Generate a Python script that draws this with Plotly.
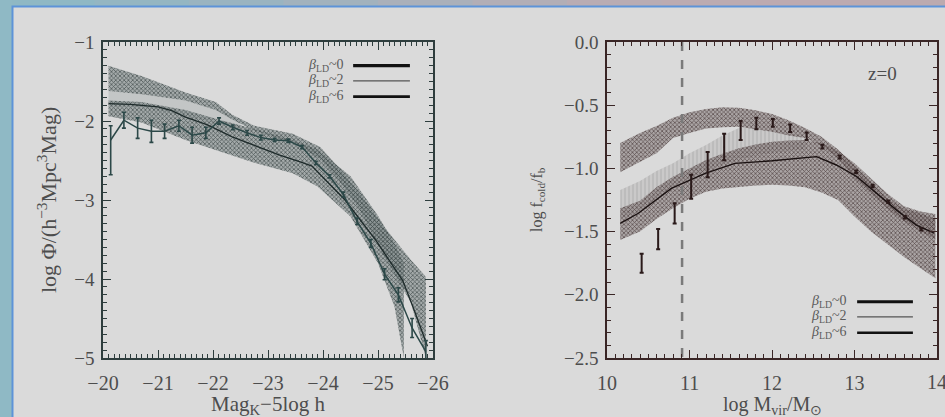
import plotly.graph_objects as go

# ---------------- left panel: K-band luminosity function ----------------
lf_mag = [-20.14, -20.38, -20.63, -20.88, -21.12, -21.38, -21.62, -21.87, -22.11,
          -22.36, -22.62, -22.87, -23.12, -23.37, -23.62, -23.87, -24.12, -24.37,
          -24.62, -24.87, -25.12, -25.37, -25.62, -25.87]
lf_phi = [-2.24, -1.99, -2.09, -2.13, -2.13, -2.06, -2.18, -2.15, -2.00,
          -2.08, -2.15, -2.21, -2.24, -2.25, -2.33, -2.53, -2.70, -2.93,
          -3.27, -3.55, -3.94, -4.20, -4.62, -4.92]
lf_err_up = [0.18, 0.10, 0.13, 0.14, 0.09, 0.07, 0.10, 0.07, 0.04,
             0.03, 0.03, 0.03, 0.02, 0.02, 0.02, 0.02, 0.02, 0.03,
             0.04, 0.05, 0.07, 0.09, 0.12, 0.14]
lf_err_dn = [0.44, 0.10, 0.13, 0.14, 0.09, 0.07, 0.10, 0.07, 0.04,
             0.03, 0.03, 0.03, 0.02, 0.02, 0.02, 0.02, 0.02, 0.03,
             0.04, 0.05, 0.07, 0.09, 0.12, 0.14]

lf_model_mag = [-20.1, -20.5, -21.0, -21.25, -21.5, -21.9, -22.35, -22.85, -23.2,
                -23.6, -23.8, -24.05, -24.4, -24.95, -25.2, -25.45, -25.65, -25.9]
lf_model_phi = [-1.78, -1.79, -1.82, -1.87, -1.95, -2.05, -2.20, -2.33, -2.43,
                -2.52, -2.57, -2.75, -3.00, -3.50, -3.76, -4.02, -4.38, -4.85]

# model spread, beta_LD ~ 0
lfA_mag = [-20.1, -20.7, -21.5, -22.05, -22.35, -22.75, -23.45, -23.95, -24.3,
           -24.65, -25.1, -25.6, -25.87]
lfA_hi = [-1.30, -1.43, -1.64, -1.76, -1.92, -2.06, -2.16, -2.33, -2.60,
          -2.90, -3.33, -3.76, -3.97]
lfA_lo = [-1.62, -1.66, -1.74, -1.86, -1.98, -2.12, -2.28, -2.48, -2.76,
          -3.10, -3.70, -4.30, -5.00]
# model spread, beta_LD ~ 2
lfC_mag = [-20.1, -20.7, -21.5, -22.1, -22.5]
lfC_hi = [-1.62, -1.66, -1.74, -1.86, -1.98]
lfC_lo = [-1.80, -1.82, -1.94, -2.04, -2.10]
# model spread, beta_LD ~ 6
lfB_mag = [-20.1, -20.7, -21.5, -22.1, -22.75, -23.45, -23.9, -24.5, -25.0,
           -25.3, -25.47]
lfB_hi = [-1.74, -1.76, -1.86, -1.98, -2.10, -2.24, -2.36, -2.70, -3.20,
          -3.55, -3.80]
lfB_lo = [-1.94, -2.02, -2.24, -2.38, -2.53, -2.66, -2.83, -3.21, -3.80,
          -4.35, -5.00]

# ---------------- right panel: cold gas fraction vs halo mass ----------------
fc_mass = [10.42, 10.62, 10.82, 11.02, 11.22, 11.42, 11.62, 11.81, 12.01,
           12.22, 12.42, 12.61, 12.82, 13.02, 13.22, 13.41, 13.61, 13.81]
fc_val = [-1.75, -1.56, -1.355, -1.145, -0.97, -0.83, -0.70, -0.645, -0.64,
          -0.683, -0.745, -0.827, -0.91, -1.026, -1.14, -1.263, -1.387, -1.482]
fc_err = [0.075, 0.08, 0.08, 0.095, 0.10, 0.105, 0.075, 0.045, 0.03,
          0.03, 0.03, 0.015, 0.012, 0.01, 0.01, 0.01, 0.01, 0.01]

fc_model_mass = [10.16, 10.38, 10.78, 11.19, 11.55, 12.0, 12.54, 12.78, 13.03,
                 13.27, 13.51, 13.75, 13.96]
fc_model_val = [-1.435, -1.355, -1.158, -1.04, -0.96, -0.94, -0.907, -0.973, -1.066,
                -1.197, -1.33, -1.448, -1.51]

band_mass = [10.16, 10.4, 10.6, 10.8, 11.0, 11.2, 11.4, 11.6, 11.8, 12.0,
             12.2, 12.4, 12.6, 12.8, 13.0, 13.2, 13.4, 13.6, 13.8, 13.98]
fcA_hi = [-0.80, -0.72, -0.665, -0.60, -0.555, -0.53, -0.517, -0.52, -0.54, -0.57,
          -0.62, -0.68, -0.75, -0.85, -0.98, -1.11, -1.24, -1.32, -1.355, -1.40]
fcA_lo = [-1.03, -0.95, -0.88, -0.76, -0.72, -0.685, -0.675, -0.67, -0.69, -0.71,
          -0.74, -0.76, -0.82, -0.92, -1.08, -1.20, -1.32, -1.42, -1.50, -1.56]
fcB_hi = [-1.316, -1.255, -1.15, -1.066, -1.0, -0.934, -0.885, -0.84, -0.81, -0.79,
          -0.78, -0.775, -0.80, -0.86, -0.96, -1.08, -1.20, -1.30, -1.34, -1.36]
fcB_lo = [-1.566, -1.50, -1.40, -1.316, -1.24, -1.184, -1.16, -1.145, -1.135, -1.13,
          -1.135, -1.15, -1.19, -1.25, -1.38, -1.50, -1.60, -1.70, -1.79, -1.87]
fcC_mass = [10.16, 10.4, 10.6, 10.8, 11.0, 11.2, 11.4, 11.6, 11.8, 12.0, 12.2, 12.4]
fcC_hi = [-1.17, -1.10, -1.02, -0.96, -0.88, -0.815, -0.74, -0.68, -0.68, -0.70, -0.72, -0.75]
fcC_lo = [-1.40, -1.34, -1.24, -1.15, -1.08, -1.02, -0.97, -0.93, -0.90, -0.88, -0.86, -0.85]

mass_resolution = 10.91
mass_axis_end = 14

legend_labels = ["<i>β</i><sub>LD</sub>~0", "<i>β</i><sub>LD</sub>~2", "<i>β</i><sub>LD</sub>~6"]
legend_widths = [3.2, 1.4, 2.6]
legend_colors = ["#111111", "#555555", "#111111"]

SERIF = "Liberation Serif, Times New Roman, serif"
TXT = "#4d4d4d"
PANEL_BG = "#dadada"


def band(x, hi, lo, xa, ya, fg, bg, shape, size, solidity):
    return go.Scatter(
        x=list(x) + list(x)[::-1], y=list(hi) + list(lo)[::-1],
        xaxis=xa, yaxis=ya, mode="lines", line=dict(width=0),
        fill="toself", fillcolor=bg,
        fillpattern=dict(shape=shape, size=size, solidity=solidity,
                         fgcolor=fg, bgcolor=bg, fillmode="replace"),
        hoverinfo="skip", showlegend=False)


LF_FG, LF_BG = "rgba(55,66,66,0.85)", "rgba(120,130,130,0.55)"
FC_FG, FC_BG = "rgba(70,55,55,0.85)", "rgba(130,120,120,0.55)"

fig = go.Figure()

# left panel bands
fig.add_trace(band(lfC_mag, lfC_hi, lfC_lo, "x", "y",
                   "rgba(165,170,170,0.7)", "rgba(185,190,190,0.7)", "", 4, 0.2))
fig.add_trace(band(lfA_mag, lfA_hi, lfA_lo, "x", "y", LF_FG, LF_BG, "x", 3, 0.4))
fig.add_trace(band(lfB_mag, lfB_hi, lfB_lo, "x", "y", LF_FG, LF_BG, "x", 3, 0.4))

# left panel model median and data
fig.add_trace(go.Scatter(x=lf_model_mag, y=lf_model_phi, xaxis="x", yaxis="y",
                         mode="lines", line=dict(color="#1e2b2b", width=1.3),
                         showlegend=False))
fig.add_trace(go.Scatter(x=lf_mag, y=lf_phi, xaxis="x", yaxis="y",
                         mode="lines", line=dict(color="#2c4848", width=1.5),
                         error_y=dict(type="data", symmetric=False, array=lf_err_up,
                                      arrayminus=lf_err_dn, color="#2c4848",
                                      thickness=1.6, width=2),
                         showlegend=False))

# right panel bands
fig.add_trace(band(fcC_mass, fcC_hi, fcC_lo, "x2", "y2",
                   "rgba(175,172,172,0.8)", "rgba(198,196,196,0.8)", "|", 4, 0.3))
fig.add_trace(band(band_mass, fcA_hi, fcA_lo, "x2", "y2", FC_FG, FC_BG, "x", 3, 0.4))
fig.add_trace(band(band_mass, fcB_hi, fcB_lo, "x2", "y2", FC_FG, FC_BG, "x", 3, 0.4))

fig.add_trace(go.Scatter(x=fc_model_mass, y=fc_model_val, xaxis="x2", yaxis="y2",
                         mode="lines", line=dict(color="#1a1111", width=1.4),
                         showlegend=False))
fig.add_trace(go.Scatter(x=fc_mass, y=fc_val, xaxis="x2", yaxis="y2",
                         mode="markers", marker=dict(size=1, color="#2a1a1a"),
                         error_y=dict(type="data", array=fc_err, color="#2a1a1a",
                                      thickness=2, width=2),
                         showlegend=False))

# resolution limit
fig.add_trace(go.Scatter(x=[mass_resolution, mass_resolution], y=[0.0, -2.5],
                         xaxis="x2", yaxis="y2", mode="lines",
                         line=dict(color="#7a7a7a", width=2.5, dash="dash"),
                         showlegend=False))


def axis_style(domain, rng, dtick, anchor, color, size, fmt=None):
    d = dict(domain=domain, range=rng, dtick=dtick, tick0=0, anchor=anchor,
             showgrid=False, zeroline=False, showline=True, linecolor=color,
             linewidth=1.6, mirror="allticks", ticks="inside", ticklen=8,
             tickwidth=1.2, tickcolor=color, automargin=False,
             minor=dict(ticks="inside", dtick=0.1, ticklen=4, tickwidth=1,
                        tickcolor=color, showgrid=False),
             tickfont=dict(family=SERIF, size=size, color=TXT))
    if fmt:
        d["tickformat"] = fmt
    return d


X1 = [103 / 945, 433 / 945]
X2 = [607 / 945, 937 / 945]
YD = [59 / 417, 375 / 417]

xa1 = axis_style(X1, [-20, -26], 1, "y", "#2e3d3d", 20)
xa1["ticklabelstandoff"] = 6
ya1 = axis_style(YD, [-5, -1], 1, "x", "#2e3d3d", 19)
ya1["ticklabelstandoff"] = 3
xa2 = axis_style(X2, [10, 14], 1, "y2", "#3a2626", 20)
xa2["ticklabelstandoff"] = 6
ya2 = axis_style(YD, [-2.5, 0.0], 0.5, "x2", "#3a2626", 19, ".1f")
ya2["ticklabelstandoff"] = 3

annotations = [
    dict(text="Mag<sub>K</sub>−5log h", x=268 / 945, y=1 - 405 / 417,
         xref="paper", yref="paper", showarrow=False,
         xanchor="center", yanchor="middle",
         font=dict(family=SERIF, size=21, color=TXT)),
    dict(text="log Φ/(h<sup>−3</sup>Mpc<sup>3</sup>Mag)", x=47 / 945, y=1 - 200 / 417,
         xref="paper", yref="paper", showarrow=False, textangle=-90,
         xanchor="center", yanchor="middle",
         font=dict(family=SERIF, size=22, color=TXT)),
    dict(text="log M<sub>vir</sub>/M<sub>⊙</sub>", x=772 / 945, y=1 - 405 / 417,
         xref="paper", yref="paper", showarrow=False,
         xanchor="center", yanchor="middle",
         font=dict(family=SERIF, size=20, color=TXT)),
    dict(text="log f<sub>cold</sub>/f<sub>b</sub>", x=537 / 945, y=1 - 200 / 417,
         xref="paper", yref="paper", showarrow=False, textangle=-90,
         xanchor="center", yanchor="middle",
         font=dict(family=SERIF, size=16, color=TXT)),
    dict(text="z=0", x=0.835, y=0.9, xref="x2 domain", yref="y2 domain",
         showarrow=False, xanchor="center", yanchor="middle",
         font=dict(family=SERIF, size=19, color=TXT)),
    # last mass tick label sits on the page edge
    dict(text=str(mass_axis_end), x=mass_axis_end, y=1 - 382 / 417,
         xref="x2", yref="paper", showarrow=False,
         xanchor="center", yanchor="middle",
         font=dict(family=SERIF, size=20, color=TXT)),
]

shapes = []
# slide backdrop: teal edge, gradient top strip, framed grey panel
top_cols = ["#8fb8c4", "#94b6c2", "#9ab4c0", "#a2b2bd", "#aab0ba", "#b2aeb6",
            "#b9acb3", "#bcabb1", "#bdaab0", "#bcaaaf"]
for i, c in enumerate(top_cols):
    shapes.append(dict(type="rect", xref="paper", yref="paper", layer="below",
                       x0=i / len(top_cols), x1=(i + 1) / len(top_cols) + 0.002,
                       y0=1 - 7 / 417, y1=1, fillcolor=c, line=dict(width=0)))
shapes.append(dict(type="rect", xref="paper", yref="paper", layer="below",
                   x0=0, x1=12 / 945, y0=0, y1=1, fillcolor="#8fb9c5",
                   line=dict(width=0)))
shapes.append(dict(type="rect", xref="paper", yref="paper", layer="below",
                   x0=12.5 / 945, x1=1.01, y0=-0.01, y1=1 - 6.5 / 417,
                   fillcolor=PANEL_BG, line=dict(color="#5d93d8", width=2)))

# legends for both panels
legend_rows_left = [0.925, 0.877, 0.827]
legend_rows_right = [0.178, 0.130, 0.080]
for rows, xa, ya, x0, x1, tx in [
        (legend_rows_left, "x domain", "y domain", 0.758, 0.930, 0.735),
        (legend_rows_right, "x2 domain", "y2 domain", 0.758, 0.927, 0.733)]:
    for lab, w, c, yy in zip(legend_labels, legend_widths, legend_colors, rows):
        shapes.append(dict(type="line", xref=xa, yref=ya, x0=x0, x1=x1,
                           y0=yy, y1=yy, line=dict(color=c, width=w)))
        annotations.append(dict(text=lab, x=tx, y=yy, xref=xa, yref=ya,
                                xanchor="right", yanchor="middle", showarrow=False,
                                font=dict(family=SERIF, size=14, color="#5a5a5a")))

fig.update_layout(
    width=945, height=417,
    margin=dict(l=0, r=0, t=0, b=0, autoexpand=False),
    paper_bgcolor=PANEL_BG, plot_bgcolor="rgba(0,0,0,0)",
    xaxis=xa1, yaxis=ya1, xaxis2=xa2, yaxis2=ya2,
    annotations=annotations, shapes=shapes, showlegend=False,
)

fig.write_html("out.html")
